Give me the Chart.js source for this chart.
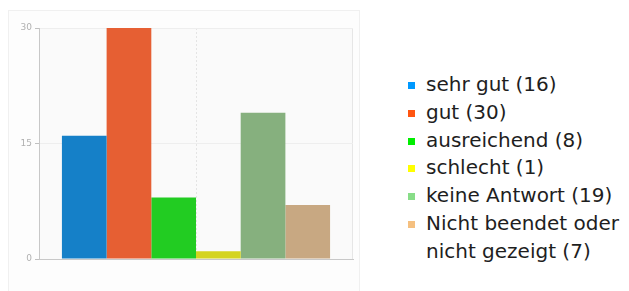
<!DOCTYPE html>
<html>
<head>
<meta charset="utf-8">
<script src="https://cdn.jsdelivr.net/npm/chart.js@4/dist/chart.umd.min.js"></script>
<style>
  body { margin: 0; background: #fff; width: 629px; height: 291px; overflow: hidden; position: relative; font-family: "DejaVu Sans", sans-serif; }
  #panel { position: absolute; left: 8px; top: 10px; width: 352px; height: 300px; border: 1px solid #f0f0f0; background: #fdfdfd; box-sizing: border-box; }
  #wrap { position: absolute; left: 0; top: 0; width: 360px; height: 291px; }
  #legend { position: absolute; left: 406px; top: 71px; width: 230px; }
  .item { position: relative; padding-left: 20px; font-size: 20px; line-height: 27.8px; color: #1e1e1e; }
  .item i { position: absolute; left: 2px; top: 11px; width: 7px; height: 7px; }
</style>
</head>
<body>
<div id="panel"></div>
<div id="wrap"><canvas id="myChart"></canvas></div>
<div id="legend"></div>
<script>
// Data
const categories = ['sehr gut', 'gut', 'ausreichend', 'schlecht', 'keine Antwort', 'Nicht beendet oder nicht gezeigt'];
const values = [16, 30, 8, 1, 19, 7];
const yTicks = [0, 15, 30];

// Colours: bars are darker than the legend swatches
const barColors = ['#1580c8', '#e65f33', '#22cc22', '#d4d420', '#86b07e', '#c8a882'];
const legendColors = ['#0099ff', '#ff5511', '#00ee00', '#ffff00', '#88dd88', '#f5c080'];

// Legend
const legend = document.getElementById('legend');
categories.forEach((cat, i) => {
    const div = document.createElement('div');
    div.classList.add('item');
    div.innerHTML = `<i style="background:${legendColors[i]}"></i>${cat} (${values[i]})`;
    legend.appendChild(div);
});

// plot area background + frame
const areaBg = {
    id: 'areaBg',
    beforeDraw(chart) {
        const { ctx, chartArea: a } = chart;
        ctx.save();
        ctx.fillStyle = '#fafafa';
        ctx.fillRect(a.left, a.top, a.right - a.left, a.bottom - a.top);
        ctx.strokeStyle = '#e6e6e6';
        ctx.lineWidth = 1;
        ctx.strokeRect(a.left + 0.5, a.top + 0.5, a.right - a.left - 1, a.bottom - a.top);
        ctx.restore();
    }
};

const ctx = document.getElementById('myChart').getContext('2d');
const myChart = new Chart(ctx, {
    type: 'bar',
    data: {
        labels: [''],
        datasets: categories.map((cat, i) => ({
            label: cat,
            data: [values[i]],
            backgroundColor: barColors[i],
            borderWidth: 0,
            categoryPercentage: 0.854,
            barPercentage: 1
        }))
    },
    options: {
        responsive: true,
        maintainAspectRatio: false,
        animation: false,
        layout: { padding: { top: 28, right: 7, bottom: 32, left: 0 } },
        plugins: { legend: { display: false }, tooltip: { enabled: false } },
        scales: {
            x: {
                ticks: { display: false },
                grid: { offset: false, color: '#e4e4e4', drawTicks: false },
                border: { color: '#c8c8c8', dash: [2, 2] },
                afterFit: s => { s.height = 0; }
            },
            y: {
                min: 0,
                max: 30,
                afterBuildTicks: s => { s.ticks = yTicks.map(v => ({ value: v })); },
                ticks: { color: '#b0b0b0', font: { family: 'DejaVu Sans', size: 9 }, padding: 3 },
                grid: { color: '#eeeeee', tickColor: '#c0c0c0', tickLength: 4 },
                border: { color: '#c8c8c8' },
                afterFit: s => { s.width = 39; }
            }
        }
    },
    plugins: [areaBg]
});
</script>
</body>
</html>
